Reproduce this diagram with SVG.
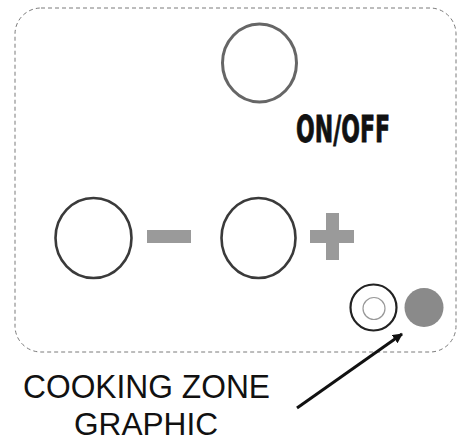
<svg xmlns="http://www.w3.org/2000/svg" width="459" height="442" viewBox="0 0 459 442">
<style>
.frame{fill:none;stroke:#7a7a7a;stroke-width:1;stroke-dasharray:4 3}
.btn{fill:#fff;stroke:#3a3a3a;stroke-width:2.6}
.sym{fill:#9a9a9a}
.lbl{font-family:"Liberation Sans",Arial,sans-serif;fill:#111}
</style>
<defs>
<marker id="ah" markerWidth="10" markerHeight="10" refX="9" refY="5" orient="auto" markerUnits="userSpaceOnUse" viewBox="0 0 10 10">
<path d="M0,0 L10,5 L0,10 z" fill="#111"/>
</marker>
</defs>
<rect width="459" height="442" fill="#fff"/>
<rect class="frame" x="15" y="8" width="441" height="344" rx="26" ry="26"/>
<g id="onoff">
<ellipse cx="259.5" cy="63" rx="37" ry="39" fill="#fff" stroke="#666" stroke-width="3"/>
<text x="296" y="142" font-family="'Liberation Sans Narrow','DejaVu Sans Condensed',sans-serif" font-weight="bold" font-size="38" textLength="94" lengthAdjust="spacingAndGlyphs" fill="#111" stroke="#111" stroke-width="0.8">ON/OFF</text>
</g>
<g id="minus">
<ellipse class="btn" cx="93.5" cy="238" rx="38" ry="40"/>
<rect class="sym" x="147" y="230" width="44" height="13"/>
</g>
<g id="plus">
<ellipse class="btn" cx="258.5" cy="238" rx="37" ry="40"/>
<rect class="sym" x="310" y="230" width="44" height="13"/>
<rect class="sym" x="326" y="213" width="13" height="47"/>
</g>
<g id="zone">
<circle cx="373.5" cy="307.5" r="23" fill="#fff" stroke="#222" stroke-width="2.2"/>
<circle cx="374" cy="308.5" r="11" fill="#fff" stroke="#999" stroke-width="1.2"/>
<circle cx="424" cy="307.5" r="19.5" fill="#8a8a8a"/>
</g>
<g id="connectors">
<line x1="297" y1="408" x2="402" y2="334" stroke="#111" stroke-width="3" marker-end="url(#ah)"/>
</g>
<g id="label">
<text class="lbl" x="23" y="398" font-size="34" textLength="247" lengthAdjust="spacingAndGlyphs">COOKING ZONE</text>
<text class="lbl" x="74" y="435" font-size="31" textLength="144" lengthAdjust="spacingAndGlyphs">GRAPHIC</text>
</g>
</svg>
